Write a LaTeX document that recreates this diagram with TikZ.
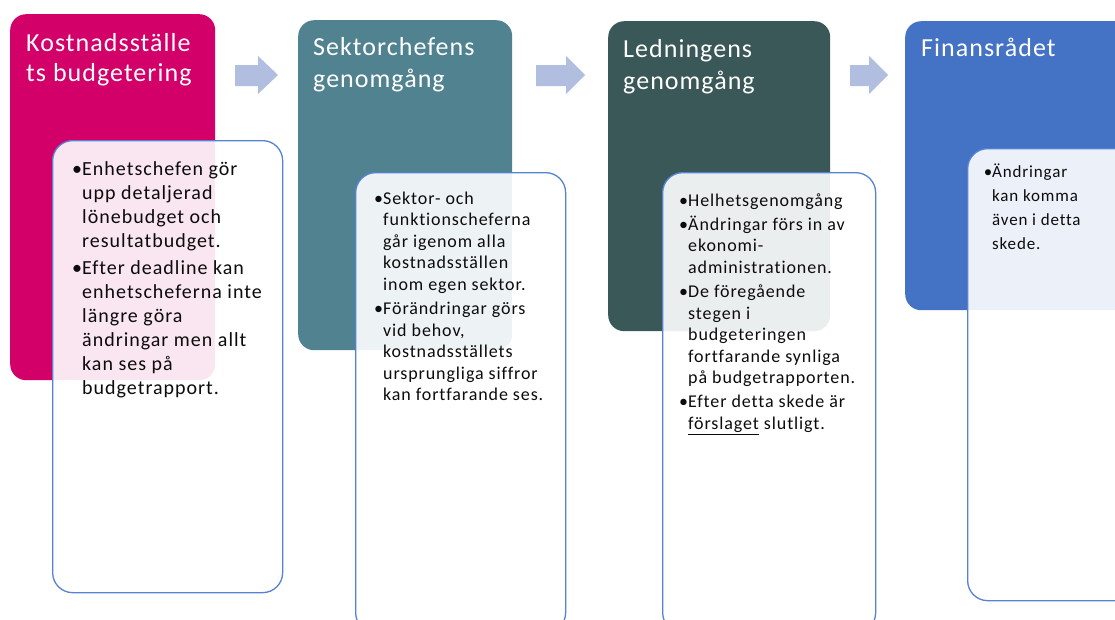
\documentclass[tikz,border=0pt]{standalone}
\usepackage{fontspec}
\setmainfont{Carlito}
\newfontfamily\ttlfont[LetterSpace=4,Ligatures=NoCommon]{Carlito}
\newfontfamily\bdyfont[LetterSpace=5,Ligatures=NoCommon]{Carlito}
\definecolor{magb}{RGB}{210,0,104}
\definecolor{tealb}{RGB}{81,130,143}
\definecolor{darkb}{RGB}{58,88,88}
\definecolor{blueb}{RGB}{68,114,196}
\definecolor{cardline}{RGB}{86,130,212}
\definecolor{arrowc}{RGB}{177,190,224}
\definecolor{txtc}{RGB}{12,12,12}
\newcommand{\bul}{\leavevmode\llap{•}}
\tikzset{
  stagebox/.style={fill=#1, draw=none, rounded corners=16pt, anchor=north west, inner sep=0pt},
  card/.style={fill=white, fill opacity=0.9, draw=cardline, draw opacity=1, line width=1.3pt,
    rounded corners=20pt, anchor=north west, inner sep=0pt},
  blockarrow/.style={fill=arrowc, draw=none},
  ttl/.style={anchor=base west, inner sep=0pt, text=white, align=left},
  bdy/.style={anchor=base west, inner sep=0pt, text=txtc},
}
\begin{document}
\begin{tikzpicture}[x=1pt,y=-1pt]
\useasboundingbox (0,0) rectangle (1115,619);
\fill[white] (0,0) rectangle (1115,619);

% stage boxes
\node[stagebox=magb, minimum width=205pt, minimum height=366pt] (b1) at (10,14) {};
\node[stagebox=tealb, minimum width=214pt, minimum height=330pt] (b2) at (298,20) {};
\node[stagebox=darkb, minimum width=222pt, minimum height=310pt] (b3) at (608,21) {};
\node[stagebox=blueb, minimum width=240pt, minimum height=289pt] (b4) at (905,21) {};

% cards
\node[card, minimum width=230pt, minimum height=452pt] (c1) at (52,140) {};
\node[card, minimum width=210pt, minimum height=460pt] (c2) at (355,172) {};
\node[card, minimum width=213pt, minimum height=460pt] (c3) at (662,172) {};
\node[card, minimum width=180pt, minimum height=452pt] (c4) at (967,148) {};

% block arrows
\fill[blockarrow] (235,65) -- (258,65) -- (258,56) -- (278,75) -- (258,94) -- (258,86) -- (235,86) -- cycle;
\fill[blockarrow] (536,65) -- (566,65) -- (566,56) -- (585,75) -- (566,94) -- (566,86) -- (536,86) -- cycle;
\fill[blockarrow] (850,65) -- (869,65) -- (869,56) -- (888,75) -- (869,94) -- (869,86) -- (850,86) -- cycle;

% titles
\node[ttl, font=\ttlfont\fontsize{26}{30}\selectfont] (t1) at (26,51)
  {\parbox[t]{190pt}{Kostnadsställe\\ts budgetering}};
\node[ttl, font=\ttlfont\fontsize{26}{32}\selectfont] (t2) at (313,55)
  {\parbox[t]{190pt}{Sektorchefens\\genomgång}};
\node[ttl, font=\ttlfont\fontsize{26}{32}\selectfont] (t3) at (623,57)
  {\parbox[t]{200pt}{Ledningens\\genomgång}};
\node[ttl, font=\ttlfont\fontsize{26}{32}\selectfont] (t4) at (921,56)
  {\parbox[t]{190pt}{Finansrådet}};

% card texts
\node[bdy] (x1) at (82,175) {\parbox[t]{200pt}{\bdyfont\fontsize{20}{24}\selectfont\raggedright
\bul Enhetschefen gör\\upp detaljerad\\lönebudget och\\resultatbudget.\par\vspace{3pt}
\bul Efter deadline kan\\enhetscheferna inte\\längre göra\\ändringar men allt\\kan ses på\\budgetrapport.}};

\node[bdy] (x2) at (383,204) {\parbox[t]{180pt}{\bdyfont\fontsize{18}{21.6}\selectfont\raggedright
\bul Sektor- och\\funktionscheferna\\går igenom alla\\kostnadsställen\\inom egen sektor.\par\vspace{2.5pt}
\bul Förändringar görs\\vid behov,\\kostnadsställets\\ursprungliga siffror\\kan fortfarande ses.}};

\node[bdy] (x3) at (688,206) {\parbox[t]{185pt}{\bdyfont\fontsize{18}{21.6}\selectfont\raggedright
\bul Helhetsgenomgång\par\vspace{2.5pt}
\bul Ändringar förs in av\\ekonomi-\\administrationen.\par\vspace{2.5pt}
\bul De föregående\\stegen i\\budgeteringen\\fortfarande synliga\\på budgetrapporten.\par\vspace{2.5pt}
\bul Efter detta skede är\\\underline{förslaget} slutligt.}};

\node[bdy] (x4) at (992,177) {\parbox[t]{120pt}{\bdyfont\fontsize{17}{24}\selectfont\raggedright
\bul Ändringar\\kan komma\\även i detta\\skede.}};
\end{tikzpicture}
\end{document}
